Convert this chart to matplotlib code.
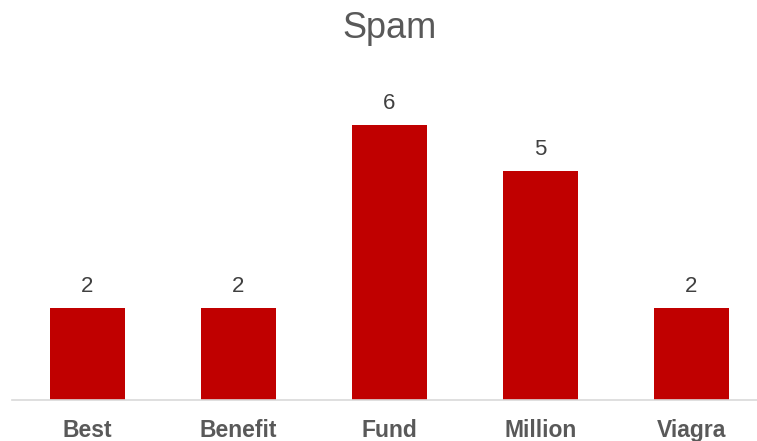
import matplotlib
matplotlib.use("Agg")
import matplotlib.pyplot as plt

plt.rcParams['font.family'] = ['Liberation Sans', 'DejaVu Sans']

categories = ["Best", "Benefit", "Fund", "Million", "Viagra"]
counts = [2, 2, 6, 5, 2]
title = "Spam"

W, H, DPI = 757, 441, 100
fig = plt.figure(figsize=(W / DPI, H / DPI), dpi=DPI)

# plot area in pixels: left 12, baseline at 400, top at ~79
left_px, right_px = 12, 757
base_px, top_px = 400, 79.4
ax = fig.add_axes([left_px / W, (H - base_px) / H,
                   (right_px - left_px) / W, (base_px - top_px) / H])

bar_color = "#C00000"
x = list(range(len(categories)))
bars = ax.bar(x, counts, width=0.5, color=bar_color, zorder=2)

slot_px = 151
ax.set_xlim(-0.5, -0.5 + (right_px - left_px) / slot_px)
ax.set_ylim(0, 7)

for s in ["top", "right", "left"]:
    ax.spines[s].set_visible(False)
ax.spines["bottom"].set_color("#D9D9D9")
ax.spines["bottom"].set_linewidth(1.2)
ax.set_yticks([])
ax.set_xticks(x)
ax.set_xticklabels(categories, fontsize=16.5, fontweight="bold", color="#595959")
ax.tick_params(axis="x", length=0, pad=14)

for b, v in zip(bars, counts):
    ax.annotate(str(v), (b.get_x() + b.get_width() / 2, v),
                xytext=(0, 8), textcoords="offset points",
                ha="center", va="bottom", fontsize=16, color="#404040")

fig.text((left_px + 5 * slot_px / 2) / W, 1 - 38 / H, title,
         ha="center", va="baseline", fontsize=26, color="#595959")

fig.savefig("out.png", dpi=DPI)
